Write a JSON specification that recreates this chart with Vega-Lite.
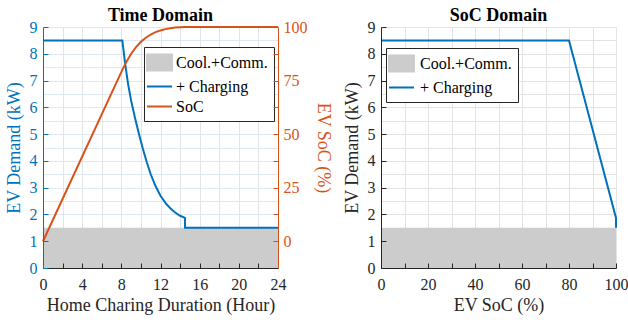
{
  "$schema": "https://vega.github.io/schema/vega-lite/v6.json",
  "autosize": {"type": "none"},
  "padding": {"left": 43, "top": 27, "right": 585, "bottom": 293},
  "bounds": "flush",
  "spacing": 103,
  "datasets": {
    "base_t": [{"x0": 0, "x1": 24, "y0": 0, "y1": 1.5, "series": "Cool.+Comm."}],
    "charge_t": [
      {"h": 0, "kw": 8.5, "series": "+ Charging"},
      {"h": 8.1, "kw": 8.5, "series": "+ Charging"},
      {"h": 8.4, "kw": 7.6, "series": "+ Charging"},
      {"h": 8.7, "kw": 6.85, "series": "+ Charging"},
      {"h": 9.0, "kw": 6.25, "series": "+ Charging"},
      {"h": 9.4, "kw": 5.6, "series": "+ Charging"},
      {"h": 9.8, "kw": 5.0, "series": "+ Charging"},
      {"h": 10.2, "kw": 4.45, "series": "+ Charging"},
      {"h": 10.6, "kw": 3.95, "series": "+ Charging"},
      {"h": 11.0, "kw": 3.5, "series": "+ Charging"},
      {"h": 11.5, "kw": 3.05, "series": "+ Charging"},
      {"h": 12.0, "kw": 2.7, "series": "+ Charging"},
      {"h": 12.5, "kw": 2.43, "series": "+ Charging"},
      {"h": 13.0, "kw": 2.23, "series": "+ Charging"},
      {"h": 13.5, "kw": 2.07, "series": "+ Charging"},
      {"h": 14.0, "kw": 1.95, "series": "+ Charging"},
      {"h": 14.5, "kw": 1.87, "series": "+ Charging"},
      {"h": 14.5, "kw": 1.5, "series": "+ Charging"},
      {"h": 24, "kw": 1.5, "series": "+ Charging"}
    ],
    "soc_t": [
      {"h": 0, "soc": 0, "series": "SoC"},
      {"h": 8.1, "soc": 80, "series": "SoC"},
      {"h": 8.5, "soc": 83.6, "series": "SoC"},
      {"h": 9.0, "soc": 87.5, "series": "SoC"},
      {"h": 9.5, "soc": 90.6, "series": "SoC"},
      {"h": 10.0, "soc": 93.1, "series": "SoC"},
      {"h": 10.5, "soc": 95.0, "series": "SoC"},
      {"h": 11.0, "soc": 96.5, "series": "SoC"},
      {"h": 11.5, "soc": 97.6, "series": "SoC"},
      {"h": 12.0, "soc": 98.4, "series": "SoC"},
      {"h": 12.5, "soc": 99.0, "series": "SoC"},
      {"h": 13.0, "soc": 99.45, "series": "SoC"},
      {"h": 13.5, "soc": 99.75, "series": "SoC"},
      {"h": 14.0, "soc": 99.92, "series": "SoC"},
      {"h": 14.5, "soc": 100, "series": "SoC"},
      {"h": 24, "soc": 100, "series": "SoC"}
    ],
    "base_s": [{"x0": 0, "x1": 100, "y0": 0, "y1": 1.5, "series": "Cool.+Comm."}],
    "charge_s": [
      {"soc": 0, "kw": 8.5, "series": "+ Charging"},
      {"soc": 80, "kw": 8.5, "series": "+ Charging"},
      {"soc": 100, "kw": 1.87, "series": "+ Charging"},
      {"soc": 100, "kw": 1.5, "series": "+ Charging"}
    ]
  },
  "hconcat": [
    {
      "width": 235,
      "height": 241,
      "title": {"text": "Time Domain", "anchor": "middle", "offset": -6},
      "layer": [
        {
          "data": {"name": "base_t"},
          "mark": {"type": "rect"},
          "encoding": {
            "x": {"field": "x0", "type": "quantitative", "scale": {"domain": [0, 24], "nice": false, "zero": false},
              "axis": {"orient": "bottom", "values": [0,2,4,6,8,10,12,14,16,18,20,22,24], "grid": true, "gridColor": "#e1e4e8", "domain": false, "ticks": false, "labels": false, "title": null, "zindex": 0}},
            "x2": {"field": "x1"},
            "y": {"field": "y0", "type": "quantitative", "scale": {"domain": [0, 9], "nice": false, "zero": false},
              "axis": {"orient": "left", "values": [0,0.5,1,1.5,2,2.5,3,3.5,4,4.5,5,5.5,6,6.5,7,7.5,8,8.5,9], "grid": true, "gridColor": "#dde8f2", "domain": false, "ticks": false, "labels": false, "title": null, "zindex": 0}},
            "y2": {"field": "y1"},
            "color": {"field": "series", "type": "nominal",
              "scale": {"domain": ["Cool.+Comm.", "+ Charging", "SoC"], "range": ["#cccccc", "#0072BD", "#D95319"]},
              "legend": {
                "orient": "none", "legendX": 101, "legendY": 20, "title": null,
                "strokeColor": "#262626", "fillColor": "white", "padding": 6, "rowPadding": 2,
                "symbolSize": 289, "labelOffset": 7, "labelFontSize": 16, "labelFont": "Liberation Serif", "labelColor": "black",
                "encode": {
                  "labels": {"update": {"font": {"value": "Liberation Serif"}}},
                  "symbols": {"update": {
                  "shape": {"signal": "datum.label === 'Cool.+Comm.' ? 'M-1.47,-0.94H1.47V0.94H-1.47Z' : 'M-1.47,0H1.47'"},
                  "fill": {"signal": "datum.label === 'Cool.+Comm.' ? '#cccccc' : 'transparent'"},
                  "stroke": {"signal": "datum.label === '+ Charging' ? '#0072BD' : (datum.label === 'SoC' ? '#D95319' : 'transparent')"},
                  "strokeWidth": {"value": 2},
                  "opacity": {"value": 1}
                }}}
              }}
          }
        },
        {
          "data": {"name": "charge_t"},
          "mark": {"type": "line", "strokeWidth": 2},
          "encoding": {
            "x": {"field": "h", "type": "quantitative", "scale": {"domain": [0, 24], "nice": false, "zero": false},
              "axis": {"orient": "bottom", "values": [0,2,4,6,8,10,12,14,16,18,20,22,24], "format": "d", "labelExpr": "datum.value % 4 === 0 ? datum.label : ''", "grid": false, "zindex": 1, "title": "Home Charing Duration (Hour)", "labelPadding": 13, "titlePadding": 4,
                "labelFont": "Liberation Serif", "labelFontSize": 16}},
            "y": {"field": "kw", "type": "quantitative", "scale": {"domain": [0, 9], "nice": false, "zero": false},
              "axis": {"orient": "left", "values": [0,0.5,1,1.5,2,2.5,3,3.5,4,4.5,5,5.5,6,6.5,7,7.5,8,8.5,9], "format": "d", "labelExpr": "datum.value % 1 === 0 ? datum.label : ''", "grid": false, "zindex": 1, "title": "EV Demand (kW)", "labelPadding": 11, "titlePadding": 6,
                "labelFont": "Liberation Serif", "labelFontSize": 16,
                "domainColor": "#0072BD", "tickColor": "#0072BD", "labelColor": "#0072BD", "titleColor": "#0072BD"}},
            "color": {"field": "series", "type": "nominal"},
            "order": {"value": null}
          }
        },
        {
          "data": {"name": "soc_t"},
          "mark": {"type": "line", "strokeWidth": 2},
          "encoding": {
            "x": {"field": "h", "type": "quantitative", "scale": {"domain": [0, 24], "nice": false, "zero": false}, "axis": null},
            "y": {"field": "soc", "type": "quantitative", "scale": {"domain": [-12.5, 100], "nice": false, "zero": false},
              "axis": {"orient": "right", "values": [0,12.5,25,37.5,50,62.5,75,87.5,100], "format": "d", "labelExpr": "datum.value % 25 === 0 ? datum.label : ''", "grid": false, "zindex": 1, "title": "EV SoC (%)", "labelPadding": 10, "titlePadding": 6,
                "labelFont": "Liberation Serif", "labelFontSize": 16,
                "domainColor": "#D95319", "tickColor": "#D95319", "labelColor": "#D95319", "titleColor": "#D95319"}},
            "color": {"field": "series", "type": "nominal"},
            "order": {"value": null}
          }
        }
      ],
      "resolve": {"scale": {"y": "independent"}, "axis": {"x": "independent", "y": "independent"}}
    },
    {
      "width": 235,
      "height": 241,
      "title": {"text": "SoC Domain", "anchor": "middle", "offset": -6},
      "layer": [
        {
          "data": {"name": "base_s"},
          "mark": {"type": "rect"},
          "encoding": {
            "x": {"field": "x0", "type": "quantitative", "scale": {"domain": [0, 100], "nice": false, "zero": false},
              "axis": {"orient": "bottom", "values": [0,10,20,30,40,50,60,70,80,90,100], "grid": true, "gridColor": "#e3e3e3", "domain": false, "ticks": false, "labels": false, "title": null, "zindex": 0}},
            "x2": {"field": "x1"},
            "y": {"field": "y0", "type": "quantitative", "scale": {"domain": [0, 9], "nice": false, "zero": false},
              "axis": {"orient": "left", "values": [0,0.5,1,1.5,2,2.5,3,3.5,4,4.5,5,5.5,6,6.5,7,7.5,8,8.5,9], "grid": true, "gridColor": "#e3e3e3", "domain": false, "ticks": false, "labels": false, "title": null, "zindex": 0}},
            "y2": {"field": "y1"},
            "color": {"field": "series", "type": "nominal",
              "scale": {"domain": ["Cool.+Comm.", "+ Charging"], "range": ["#cccccc", "#0072BD"]},
              "legend": {
                "orient": "none", "legendX": 5, "legendY": 21, "title": null,
                "strokeColor": "#262626", "fillColor": "white", "padding": 6, "rowPadding": 2,
                "symbolSize": 289, "labelOffset": 9, "labelFontSize": 16, "labelFont": "Liberation Serif", "labelColor": "black",
                "encode": {
                  "labels": {"update": {"font": {"value": "Liberation Serif"}}},
                  "symbols": {"update": {
                  "shape": {"signal": "datum.label === 'Cool.+Comm.' ? 'M-1.47,-0.94H1.47V0.94H-1.47Z' : 'M-1.47,0H1.47'"},
                  "fill": {"signal": "datum.label === 'Cool.+Comm.' ? '#cccccc' : 'transparent'"},
                  "stroke": {"signal": "datum.label === '+ Charging' ? '#0072BD' : 'transparent'"},
                  "strokeWidth": {"value": 2},
                  "opacity": {"value": 1}
                }}}
              }}
          }
        },
        {
          "data": {"name": "charge_s"},
          "mark": {"type": "line", "strokeWidth": 2},
          "encoding": {
            "x": {"field": "soc", "type": "quantitative", "scale": {"domain": [0, 100], "nice": false, "zero": false},
              "axis": {"orient": "bottom", "values": [0,10,20,30,40,50,60,70,80,90,100], "format": "d", "labelExpr": "datum.value % 20 === 0 ? datum.label : ''", "grid": false, "zindex": 1, "title": "EV SoC (%)", "labelPadding": 13, "titlePadding": 4,
                "labelFont": "Liberation Serif", "labelFontSize": 16}},
            "y": {"field": "kw", "type": "quantitative", "scale": {"domain": [0, 9], "nice": false, "zero": false},
              "axis": {"orient": "left", "values": [0,0.5,1,1.5,2,2.5,3,3.5,4,4.5,5,5.5,6,6.5,7,7.5,8,8.5,9], "format": "d", "labelExpr": "datum.value % 1 === 0 ? datum.label : ''", "grid": false, "zindex": 1, "title": "EV Demand (kW)", "labelPadding": 11, "titlePadding": 6,
                "labelFont": "Liberation Serif", "labelFontSize": 16}},
            "color": {"field": "series", "type": "nominal"},
            "order": {"value": null}
          }
        }
      ],
      "resolve": {"axis": {"x": "independent", "y": "independent"}}
    }
  ],
  "resolve": {"scale": {"color": "independent"}, "legend": {"color": "independent"}},
  "config": {
    "font": "Liberation Serif",
    "view": {"stroke": null},
    "style": {"guide-label": {"font": "Liberation Serif"}, "guide-title": {"font": "Liberation Serif"}},
    "legend": {"labelFont": "Liberation Serif"},
    "title": {"font": "Liberation Serif", "fontSize": 18, "fontWeight": "bold", "color": "black"},
    "axis": {
      "labelFont": "Liberation Serif", "titleFont": "Liberation Serif",
      "labelFontSize": 16, "titleFontSize": 18, "titleFontWeight": "normal",
      "labelColor": "#262626", "titleColor": "#262626", "domainColor": "#262626", "tickColor": "#262626",
      "tickSize": -5, "labelFlush": false, "labelOverlap": false, "labelBound": false,
      "domainWidth": 1, "tickWidth": 1
    }
  }
}
